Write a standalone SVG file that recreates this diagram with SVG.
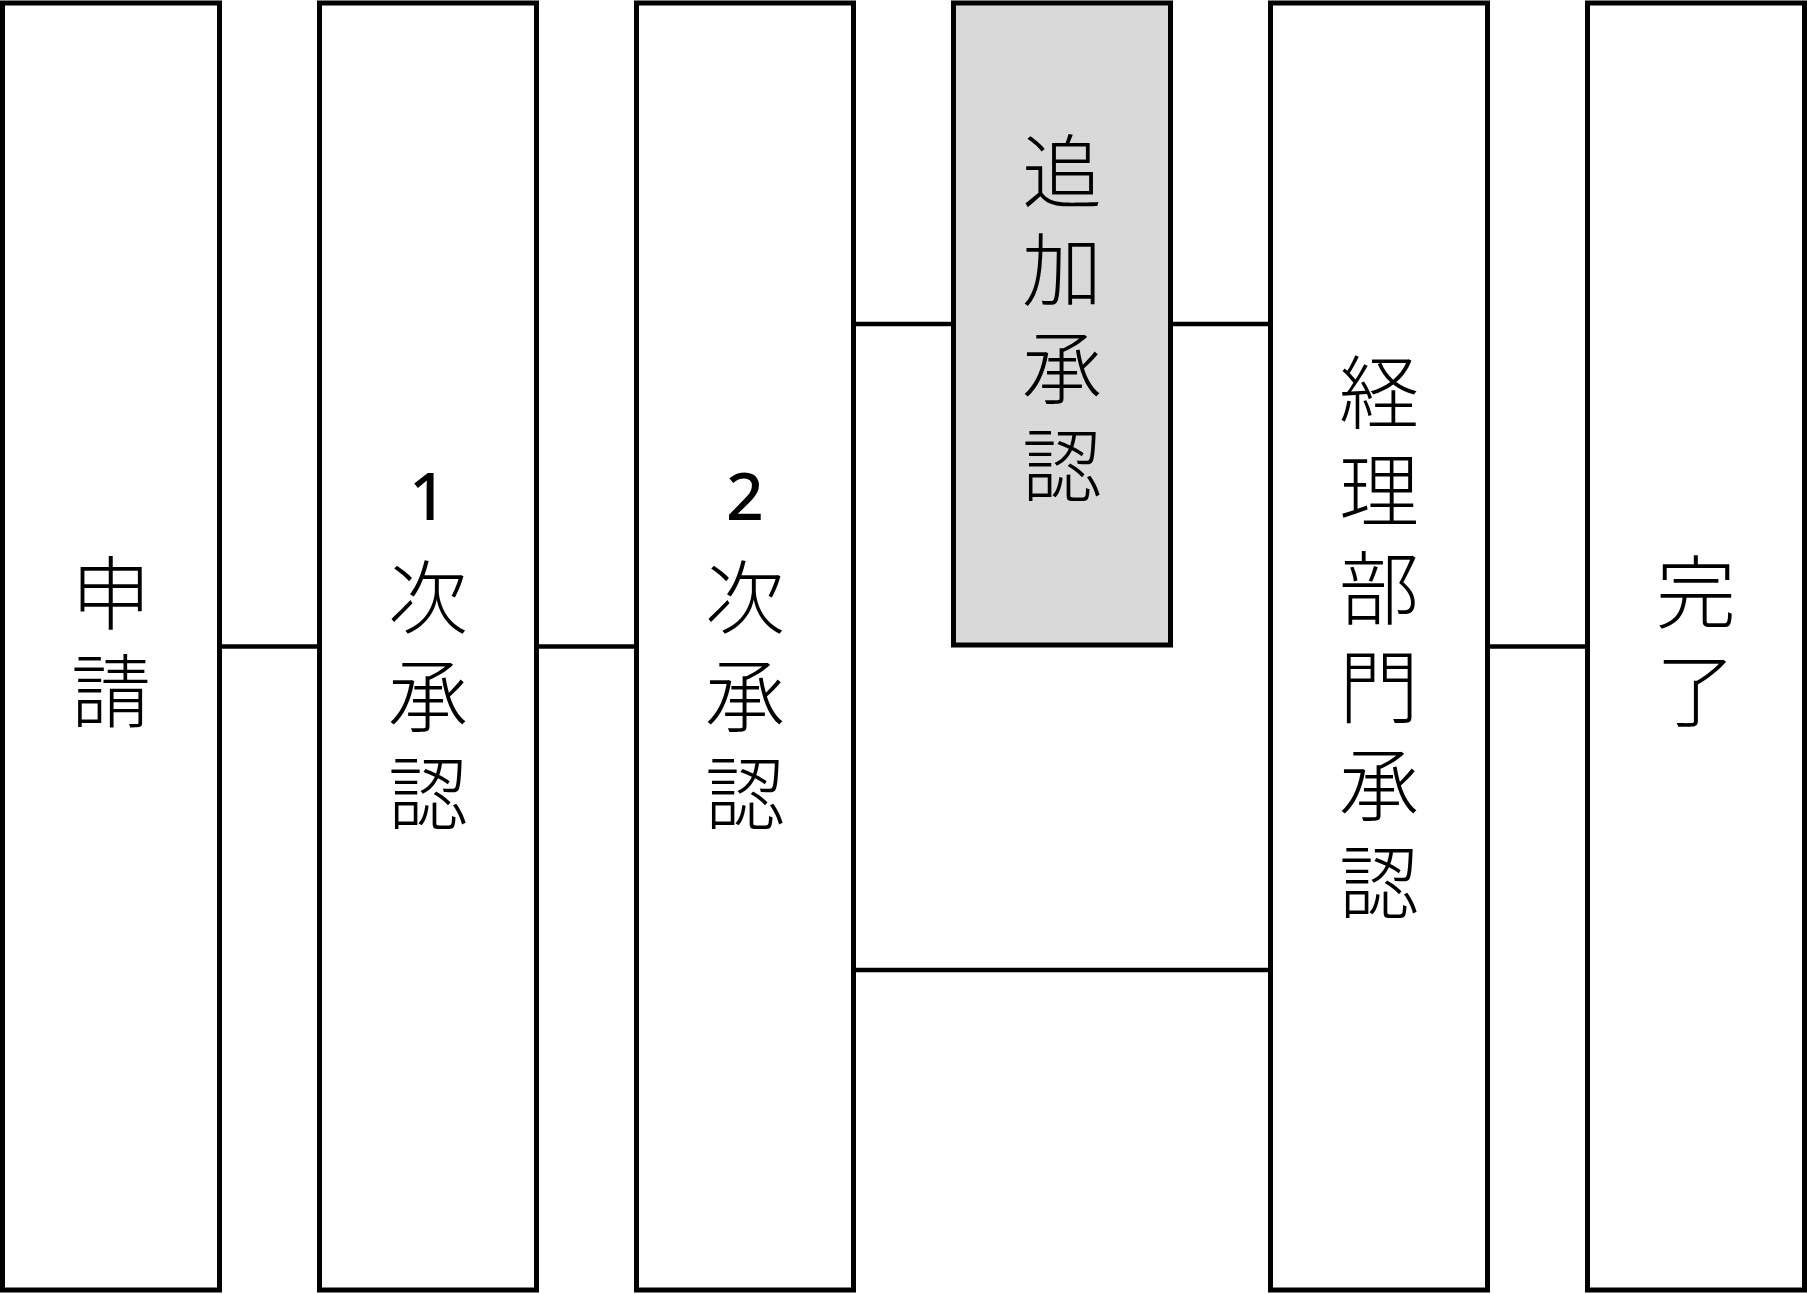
<svg xmlns="http://www.w3.org/2000/svg" width="1807" height="1294" viewBox="0 0 1807 1294">
<style>
.box{fill:#ffffff;stroke:#000000;stroke-width:5}
.gray{fill:#d9d9d9}
.ln{stroke:#000000;stroke-width:4.5;fill:none}
.t{font-family:"Noto Sans CJK JP","Noto Sans",sans-serif;font-size:80px;font-weight:300;fill:#000000;writing-mode:vertical-rl;text-orientation:upright;letter-spacing:18px}
.d{font-family:"Noto Sans","Noto Sans CJK JP",sans-serif;font-weight:500;font-size:66px}
</style>
<rect width="1807" height="1294" fill="#ffffff"/>
<g id="connectors">
<line class="ln" x1="219.5" y1="646.5" x2="319.5" y2="646.5"/>
<line class="ln" x1="536.5" y1="646.5" x2="636.5" y2="646.5"/>
<line class="ln" x1="853.5" y1="324" x2="953.5" y2="324"/>
<line class="ln" x1="1170.5" y1="324" x2="1270.5" y2="324"/>
<line class="ln" x1="853.5" y1="970" x2="1270.5" y2="970"/>
<line class="ln" x1="1487.5" y1="646.5" x2="1587.5" y2="646.5"/>
</g>
<g id="node-shinsei">
<rect class="box" x="2.5" y="3" width="217" height="1287"/>
<text class="t" x="111" y="553">申請</text>
</g>
<g id="node-1ji">
<rect class="box" x="319.5" y="3" width="217" height="1287"/>
<text class="t" x="428" y="449"><tspan class="d">1</tspan>次承認</text>
</g>
<g id="node-2ji">
<rect class="box" x="636.5" y="3" width="217" height="1287"/>
<text class="t" x="745" y="449"><tspan class="d">2</tspan>次承認</text>
</g>
<g id="node-tsuika">
<rect class="box gray" x="953.5" y="3" width="217" height="642"/>
<text class="t" x="1062" y="131">追加承認</text>
</g>
<g id="node-keiri">
<rect class="box" x="1270.5" y="3" width="217" height="1287"/>
<text class="t" x="1379" y="352">経理部門承認</text>
</g>
<g id="node-kanryo">
<rect class="box" x="1587.5" y="3" width="217" height="1287"/>
<text class="t" x="1696" y="552">完了</text>
</g>
</svg>
